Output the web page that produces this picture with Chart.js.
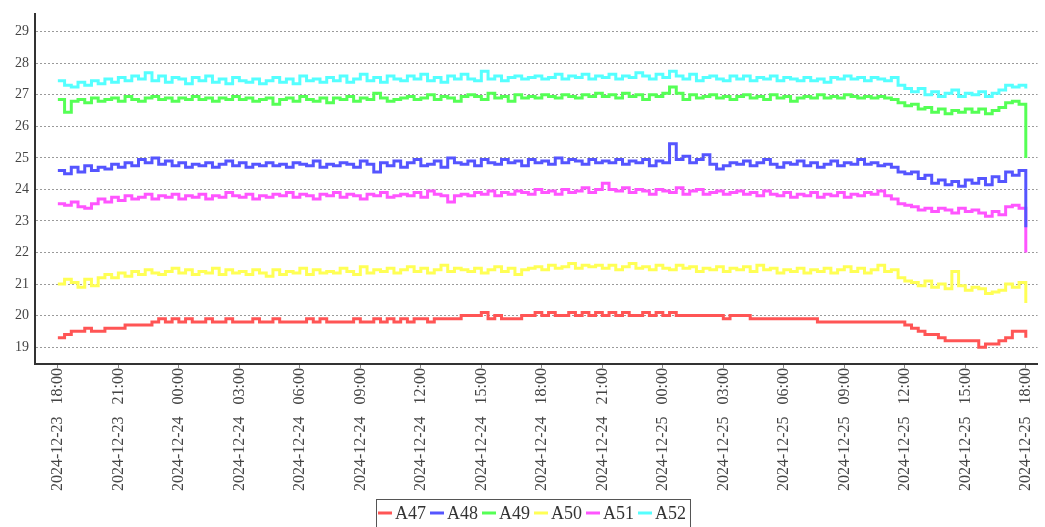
<!DOCTYPE html>
<html>
<head>
<meta charset="utf-8">
<script src="https://cdn.jsdelivr.net/npm/chart.js@4.4.1/dist/chart.umd.min.js"></script>
<style>
  html, body { margin: 0; padding: 0; background: #fff; }
  #chart { display: block; }
</style>
</head>
<body>
<canvas id="chart" width="1045" height="527"></canvas>
<script>
// one reading every 20 minutes, 2024-12-23 18:00 -> 2024-12-25 18:00
const stepMinutes = 20;

const seriesNames = ['A47', 'A48', 'A49', 'A50', 'A51', 'A52'];
const seriesColors = ['#ff5555', '#5555ff', '#55ff55', '#ffff55', '#ff55ff', '#55ffff'];

const a47 = [
  19.3, 19.4, 19.5, 19.5, 19.6, 19.5, 19.5,
  19.6, 19.6, 19.6, 19.7, 19.7, 19.7, 19.7,
  19.8, 19.9, 19.8, 19.9, 19.8, 19.9, 19.8,
  19.8, 19.9, 19.8, 19.8, 19.9, 19.8, 19.8, 19.8, 19.9, 19.8,
  19.8, 19.9, 19.8, 19.8, 19.8, 19.8, 19.9, 19.8, 19.9, 19.8,
  19.8, 19.8, 19.8, 19.9, 19.8, 19.8, 19.9, 19.8, 19.9, 19.8,
  19.9, 19.8, 19.9, 19.9, 19.8, 19.9, 19.9, 19.9, 19.9, 20.0,
  20.0, 20.0, 20.1, 19.9, 20.0, 19.9, 19.9, 19.9, 20.0, 20.0,
  20.1, 20.0, 20.1, 20.0, 20.0, 20.1, 20.0, 20.1, 20.0, 20.1,
  20.0, 20.1, 20.0, 20.1, 20.0, 20.0, 20.1, 20.0, 20.1, 20.0,
  20.1, 20.0, 20.0, 20.0, 20.0, 20.0, 20.0, 20.0, 19.9, 20.0,
  20.0, 20.0, 19.9, 19.9, 19.9, 19.9, 19.9, 19.9, 19.9, 19.9,
  19.9, 19.9, 19.8, 19.8, 19.8, 19.8, 19.8, 19.8, 19.8, 19.8,
  19.8, 19.8, 19.8, 19.8, 19.8, 19.7,
  19.6, 19.5, 19.4, 19.4, 19.3, 19.2, 19.2, 19.2, 19.2,
  19.2, 19.0, 19.1, 19.1, 19.2,
  19.3, 19.5, 19.5, 19.3
];
const a48 = [
  24.6, 24.5, 24.7, 24.55, 24.75, 24.6, 24.7,
  24.65, 24.8, 24.7, 24.85, 24.75, 24.95, 24.85,
  25.0, 24.8, 24.9, 24.75, 24.85, 24.7, 24.8,
  24.75, 24.85, 24.7, 24.8, 24.9, 24.75, 24.85, 24.7, 24.8, 24.75,
  24.85, 24.75, 24.8, 24.7, 24.85, 24.8, 24.75, 24.9, 24.7, 24.8,
  24.75, 24.85, 24.8, 24.7, 24.9, 24.8, 24.55, 24.85, 24.75, 24.9,
  24.7, 24.85, 24.95, 24.75, 24.8, 24.9, 24.7, 25.0, 24.85, 24.8,
  24.9, 24.75, 24.95, 24.85, 24.8, 24.95, 24.85, 24.9, 24.75, 24.95,
  24.85, 24.9, 24.8, 25.0, 24.85, 24.95, 24.9, 24.8, 24.95, 24.85,
  24.9, 24.85, 24.95, 24.8, 24.9, 24.85, 24.95, 24.75, 24.9, 24.85,
  25.45, 24.95, 25.05, 24.85, 24.95, 25.1, 24.8, 24.65, 24.75, 24.85,
  24.8, 24.9, 24.75, 24.85, 24.95, 24.8, 24.7, 24.85, 24.8, 24.9,
  24.75, 24.85, 24.7, 24.8, 24.9, 24.75, 24.85, 24.8, 24.95, 24.8,
  24.85, 24.75, 24.8, 24.7, 24.55, 24.5,
  24.55, 24.35, 24.45, 24.2, 24.3, 24.15, 24.25, 24.1, 24.3,
  24.2, 24.35, 24.15, 24.4, 24.25,
  24.55, 24.45, 24.6, 22.8
];
const a49 = [
  26.85, 26.45, 26.8, 26.85, 26.75, 26.9, 26.8,
  26.85, 26.9, 26.8, 26.95, 26.85, 26.8, 26.9,
  26.95, 26.85, 26.9, 26.8, 26.9, 26.85, 26.95,
  26.85, 26.9, 26.8, 26.9, 26.85, 26.95, 26.85, 26.9, 26.8, 26.85,
  26.9, 26.7, 26.85, 26.9, 26.8, 26.95, 26.85, 26.8, 26.9, 26.75,
  26.9, 26.85, 26.95, 26.8, 26.9, 26.85, 27.05, 26.9, 26.8, 26.85,
  26.9, 26.95, 26.85, 26.9, 27.0, 26.85, 26.95, 26.9, 26.8, 26.95,
  27.0, 26.95, 26.85, 27.05, 26.9, 26.95, 26.8, 27.0, 26.9, 26.95,
  26.9, 27.0, 26.95, 26.9, 27.0, 26.95, 26.9, 27.0, 26.95, 27.05,
  26.95, 27.0, 26.9, 27.05, 26.95, 27.0, 26.85, 27.0, 26.95, 27.05,
  27.25, 27.05, 26.85, 27.0, 26.9, 26.95, 27.0, 26.9, 26.95, 26.85,
  26.95, 27.0, 26.9, 26.95, 26.85, 27.0, 26.9, 26.95, 26.8, 26.9,
  26.95, 26.9, 27.0, 26.9, 26.95, 26.9, 27.0, 26.95, 26.9, 26.95,
  26.9, 26.95, 26.9, 26.85, 26.75, 26.65,
  26.7, 26.55, 26.6, 26.45, 26.55, 26.4, 26.5, 26.45, 26.55,
  26.45, 26.55, 26.4, 26.5, 26.6,
  26.75, 26.8, 26.7, 25.0
];
const a50 = [
  21.0, 21.15, 21.05, 20.9, 21.15, 20.95, 21.2,
  21.3, 21.2, 21.35, 21.25, 21.4, 21.3, 21.45,
  21.35, 21.3, 21.4, 21.5, 21.35, 21.45, 21.3,
  21.4, 21.35, 21.5, 21.3, 21.45, 21.35, 21.4, 21.3, 21.45, 21.35,
  21.25, 21.45, 21.3, 21.4, 21.35, 21.5, 21.3, 21.45, 21.35, 21.4,
  21.35, 21.5, 21.4, 21.3, 21.55, 21.35, 21.45, 21.4, 21.5, 21.35,
  21.45, 21.55, 21.4, 21.5, 21.35, 21.45, 21.6, 21.4, 21.5, 21.45,
  21.4, 21.5, 21.35, 21.45, 21.55, 21.4, 21.5, 21.3, 21.45, 21.5,
  21.55, 21.45, 21.6, 21.5, 21.55, 21.65, 21.5, 21.6, 21.55, 21.6,
  21.5, 21.6, 21.45, 21.55, 21.65, 21.5, 21.55, 21.45, 21.6, 21.5,
  21.45, 21.6, 21.5, 21.55, 21.4, 21.5, 21.45, 21.55, 21.4, 21.5,
  21.45, 21.55, 21.4, 21.6, 21.45, 21.5, 21.35, 21.45, 21.4, 21.5,
  21.35, 21.45, 21.4, 21.5, 21.35, 21.45, 21.55, 21.4, 21.5, 21.35,
  21.45, 21.6, 21.4, 21.45, 21.2, 21.1,
  21.05, 20.95, 21.1, 20.9, 21.0, 20.85, 21.4, 20.95, 20.8,
  20.9, 20.85, 20.7, 20.75, 20.8,
  21.0, 20.9, 21.05, 20.4
];
const a51 = [
  23.55, 23.5, 23.6, 23.45, 23.4, 23.55, 23.7,
  23.6, 23.75, 23.65, 23.8, 23.7, 23.75, 23.85,
  23.7, 23.8, 23.75, 23.85, 23.7, 23.8, 23.75,
  23.85, 23.7, 23.8, 23.75, 23.9, 23.8, 23.75, 23.85, 23.7, 23.8,
  23.75, 23.85, 23.8, 23.9, 23.75, 23.85, 23.8, 23.7, 23.85, 23.8,
  23.9, 23.75, 23.85, 23.8, 23.7, 23.85, 23.8, 23.9, 23.75, 23.8,
  23.85, 23.8, 23.9, 23.75, 23.95, 23.85, 23.8, 23.6, 23.8, 23.85,
  23.8, 23.9, 23.85, 23.95, 23.8, 23.9, 23.85, 23.95, 23.9, 23.85,
  24.0, 23.9, 23.95, 23.85, 24.0, 23.9, 23.95, 24.05, 23.9, 24.0,
  24.2, 24.0, 23.95, 24.05, 23.9, 24.0, 23.95, 23.85, 24.0, 23.95,
  23.9, 24.05, 23.85, 23.95, 24.0, 23.85, 23.9, 23.95, 23.85, 23.9,
  23.95, 23.85, 23.9, 23.8, 23.95, 23.85, 23.8, 23.9, 23.75, 23.85,
  23.8, 23.9, 23.75, 23.85, 23.8, 23.9, 23.75, 23.85, 23.8, 23.9,
  23.85, 23.95, 23.8, 23.7, 23.55, 23.5,
  23.45, 23.35, 23.4, 23.3, 23.4, 23.35, 23.25, 23.4, 23.3,
  23.35, 23.25, 23.15, 23.3, 23.2,
  23.45, 23.5, 23.4, 22.0
];
const a52 = [
  27.45, 27.3, 27.25, 27.4, 27.3, 27.45, 27.35,
  27.5, 27.4, 27.55, 27.45, 27.6, 27.5, 27.7,
  27.45, 27.6, 27.4, 27.55, 27.5, 27.35, 27.55,
  27.45, 27.6, 27.4, 27.5, 27.35, 27.55, 27.45, 27.4, 27.5, 27.35,
  27.45, 27.55, 27.4, 27.5, 27.35, 27.6, 27.45, 27.5, 27.4, 27.55,
  27.45, 27.6, 27.4, 27.5, 27.65, 27.45, 27.55, 27.4, 27.6, 27.5,
  27.45, 27.6, 27.5, 27.65, 27.45, 27.55, 27.4, 27.6, 27.5, 27.65,
  27.5, 27.45, 27.75, 27.5, 27.6, 27.45, 27.55, 27.6, 27.5, 27.55,
  27.6, 27.5, 27.55, 27.65, 27.5, 27.6, 27.55, 27.65, 27.5, 27.6,
  27.55, 27.65, 27.5, 27.6, 27.55, 27.7, 27.6, 27.5, 27.65, 27.55,
  27.75, 27.6, 27.5, 27.65, 27.45, 27.55, 27.6, 27.5, 27.45, 27.6,
  27.5, 27.6, 27.45, 27.55, 27.5, 27.6, 27.45, 27.55, 27.5, 27.45,
  27.55, 27.45, 27.5, 27.4, 27.55, 27.5, 27.6, 27.5, 27.55, 27.45,
  27.55, 27.5, 27.45, 27.55, 27.3, 27.2,
  27.1, 27.2, 27.0, 27.1, 26.95, 27.05, 27.15, 26.95, 27.05,
  27.0, 27.1, 26.95, 27.05, 27.15,
  27.3, 27.25, 27.3, 27.2
];

const xTickMinutes = [0, 180, 360, 540, 720, 900, 1080, 1260, 1440, 1620, 1800, 1980, 2160, 2340, 2520, 2700, 2880];
const xTickLabels = [
  '2024-12-23   18:00', '2024-12-23   21:00', '2024-12-24   00:00', '2024-12-24   03:00',
  '2024-12-24   06:00', '2024-12-24   09:00', '2024-12-24   12:00', '2024-12-24   15:00',
  '2024-12-24   18:00', '2024-12-24   21:00', '2024-12-25   00:00', '2024-12-25   03:00',
  '2024-12-25   06:00', '2024-12-25   09:00', '2024-12-25   12:00', '2024-12-25   15:00',
  '2024-12-25   18:00'
];
const yTicks = [19, 20, 21, 22, 23, 24, 25, 26, 27, 28, 29];

const allSeries = [a47, a48, a49, a50, a51, a52];
const serifFont = '"Liberation Serif", "DejaVu Serif", serif';

// legend drawn by hand so the sample line sits right next to the label, in a thin box
const boxedLegend = {
  id: 'boxedLegend',
  afterDraw(chart) {
    const ctx = chart.ctx;
    ctx.save();
    ctx.font = '18px ' + serifFont;
    const lineLen = 14, gapIn = 3, gapOut = 4;
    const widths = seriesNames.map(n => lineLen + gapIn + ctx.measureText(n).width + gapOut);
    const total = widths.reduce((a, b) => a + b, 0);
    let x = Math.round(534 - total / 2);
    const yMid = 513;

    ctx.strokeStyle = '#555';
    ctx.lineWidth = 1;
    ctx.strokeRect(x - 1.5, 499.5, total + 2, 40);

    ctx.textBaseline = 'middle';
    seriesNames.forEach((name, i) => {
      ctx.strokeStyle = seriesColors[i];
      ctx.lineWidth = 3;
      ctx.beginPath();
      ctx.moveTo(x, yMid);
      ctx.lineTo(x + lineLen, yMid);
      ctx.stroke();
      ctx.fillStyle = '#333';
      ctx.fillText(name, x + lineLen + gapIn, yMid + 1);
      x += widths[i];
    });
    ctx.restore();
  }
};

new Chart(document.getElementById('chart'), {
  type: 'line',
  data: {
    datasets: allSeries.map((vals, k) => ({
      label: seriesNames[k],
      data: vals.map((v, i) => ({ x: i * stepMinutes, y: v })),
      borderColor: seriesColors[k],
      backgroundColor: seriesColors[k],
      borderWidth: 3,
      pointRadius: 0,
      stepped: true,
      fill: false
    }))
  },
  options: {
    responsive: false,
    devicePixelRatio: 1,
    animation: false,
    layout: { padding: { top: 12, left: 0, right: 0, bottom: 28 } },
    plugins: {
      legend: { display: false },
      tooltip: { enabled: false }
    },
    scales: {
      x: {
        type: 'linear',
        min: -68,
        max: 2915,
        afterBuildTicks: s => { s.ticks = xTickMinutes.map(v => ({ value: v })); },
        afterFit: s => { s.height = 135; },
        grid: { drawOnChartArea: false, drawTicks: true, tickLength: 4, color: '#888' },
        border: { display: true, color: '#333', width: 2 },
        ticks: {
          autoSkip: false,
          minRotation: 90,
          maxRotation: 90,
          padding: 0,
          color: '#444',
          font: { family: serifFont, size: 16 },
          callback: (v, i) => xTickLabels[i]
        }
      },
      y: {
        min: 18.465,
        max: 29.55,
        afterBuildTicks: s => { s.ticks = yTicks.map(v => ({ value: v })); },
        afterFit: s => { s.width = 35; },
        grid: { color: '#9a9a9a', lineWidth: 1, drawTicks: false },
        border: { display: true, color: '#333', width: 2, dash: [2, 2] },
        ticks: {
          padding: 6,
          color: '#444',
          font: { family: serifFont, size: 14 }
        }
      }
    }
  },
  plugins: [boxedLegend]
});
</script>
</body>
</html>
